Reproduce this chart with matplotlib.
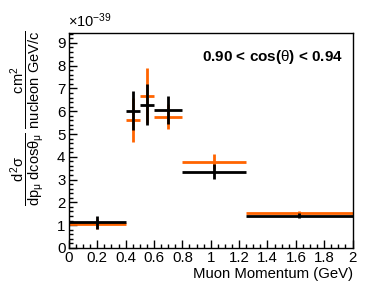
import matplotlib

matplotlib.use("Agg")

import matplotlib.pyplot as plt
import numpy as np
from matplotlib.ticker import MultipleLocator

# Bin edges (GeV) and cross sections (x 1e-39)
BIN_LO = [0.0, 0.4, 0.5, 0.6, 0.8, 1.25]
BIN_HI = [0.4, 0.5, 0.6, 0.8, 1.25, 2.0]
DATA_Y = [1.13, 6.03, 6.29, 6.06, 3.35, 1.42]
DATA_ERR = [0.29, 0.86, 0.90, 0.60, 0.32, 0.10]
MC_Y = [1.03, 5.62, 6.69, 5.75, 3.79, 1.52]
MC_ERR = [0.22, 0.95, 1.20, 0.55, 0.34, 0.12]

ORANGE = "#ff6400"

plt.rcParams["font.family"] = ["Liberation Sans", "DejaVu Sans"]
plt.rcParams["mathtext.fontset"] = "custom"
plt.rcParams["mathtext.rm"] = "Liberation Sans"
plt.rcParams["mathtext.it"] = "Liberation Sans"
plt.rcParams["mathtext.bf"] = "Liberation Sans:bold"

fig = plt.figure(figsize=(3.87, 2.83), dpi=100)
ax = fig.add_axes([0.178, 0.124, 0.733, 0.759])

lo = np.array(BIN_LO)
hi = np.array(BIN_HI)
xc = (lo + hi) / 2
xerr = (hi - lo) / 2

ax.errorbar(xc, MC_Y, xerr=xerr, yerr=MC_ERR, fmt="none", ecolor=ORANGE,
            elinewidth=2, capsize=0)
ax.errorbar(xc, DATA_Y, xerr=xerr, yerr=DATA_ERR, fmt="none", ecolor="black",
            elinewidth=2, capsize=0)

ax.set_xlim(0, 2)
ax.set_ylim(0, 9.43)
ax.xaxis.set_major_locator(MultipleLocator(0.2))
ax.xaxis.set_minor_locator(MultipleLocator(0.05))
ax.yaxis.set_major_locator(MultipleLocator(1))
ax.yaxis.set_minor_locator(MultipleLocator(0.2))
ax.set_xticks(np.arange(0, 2.01, 0.2))
ax.set_xticklabels(["0", "0.2", "0.4", "0.6", "0.8", "1", "1.2", "1.4", "1.6", "1.8", "2"])
ax.tick_params(which="both", direction="in", top=False, right=False, labelsize=10.8)
ax.tick_params(which="major", length=6, width=1)
ax.tick_params(which="minor", length=3, width=1)
ax.tick_params(axis="x", pad=2.5)
ax.tick_params(axis="y", pad=2.5)
for sp in ax.spines.values():
    sp.set_linewidth(1)

ax.set_xlabel("Muon Momentum (GeV)", fontsize=10.7, ha="right", x=1.0, labelpad=1)

fig.text(0.176, 0.893, r"$\times10^{-39}$", fontsize=10.5, ha="left", va="bottom")
ax.text(0.965, 0.93, r"0.90 < cos($\theta$) < 0.94", transform=ax.transAxes,
        fontsize=11, fontweight="bold", ha="right", va="top")

fig.text(0.072, 0.583,
         r"$\dfrac{d^{2}\sigma}{dp_{\mu}\ dcos\theta_{\mu}}\ \dfrac{cm^{2}}{nucleon\ GeV/c}$",
         fontsize=10.5, rotation=90, ha="center", va="center")

fig.savefig("out.png", dpi=100)
